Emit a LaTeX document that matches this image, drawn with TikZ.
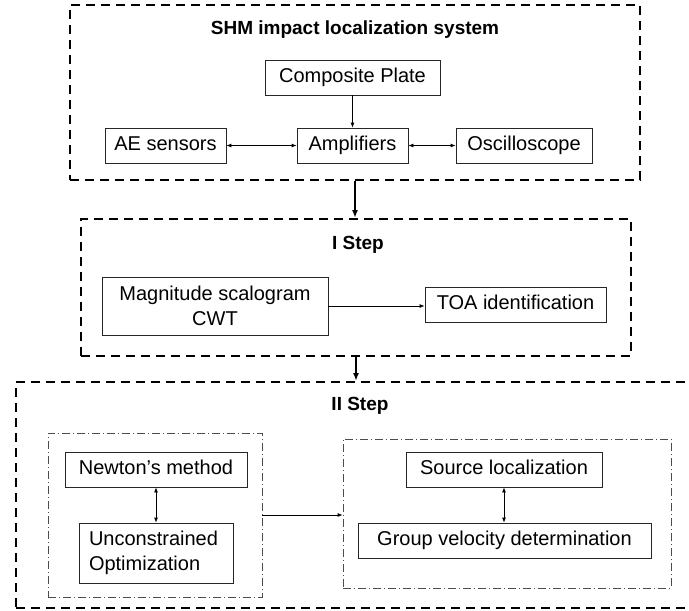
\documentclass[tikz,border=0pt]{standalone}
\usepackage{fontspec}
\setmainfont{Liberation Sans}
\usepackage{tikz}
\usetikzlibrary{arrows.meta}

\begin{document}
\begin{tikzpicture}[x=1pt, y=-1pt,
  every node/.style={font=\fontsize{20}{25}\selectfont, inner sep=0pt},
  blk/.style={draw=black!85, line width=0.8pt, align=center},
  oneline/.style={blk, text height=14.5pt, text depth=4.5pt, minimum height=35},
  stepbox/.style={draw, line width=2pt, dash pattern=on 9pt off 6pt},
  subbox/.style={draw=black!70, line width=0.8pt, dash pattern=on 8pt off 3pt on 1pt off 3pt},
  ttl/.style={font=\bfseries\fontsize{19}{23}\selectfont},
  arr/.style={-{Latex[length=5pt,width=4pt]}, line width=0.8pt},
  darr/.style={{Latex[length=5pt,width=4pt]}-{Latex[length=5pt,width=4pt]}, line width=0.8pt},
  bigarr/.style={-{Latex[length=8pt,width=6pt]}, line width=2pt}]
\clip (0,0) rectangle (689,611);
\node[stepbox, minimum width=570, minimum height=175] (sys) at (355,92.5) {};
\node[stepbox, minimum width=550, minimum height=137] (stepI) at (356,287.5) {};
\node[stepbox, minimum width=679, minimum height=226] (stepII) at (355.5,495) {};
\node[ttl] (sysTitle) at (355,30) {SHM impact localization system};
\node[ttl] (stepITitle) at (358,245) {I Step};
\node[ttl] (stepIITitle) at (360,406) {II Step};
\node[oneline, minimum width=175] (plate) at (352.5,77.5) {Composite Plate};
\node[oneline, minimum width=121] (ae) at (165.5,145.5) {AE sensors};
\node[oneline, minimum width=111] (amp) at (352.5,145.5) {Amplifiers};
\node[oneline, minimum width=136] (osc) at (524,145.5) {Oscilloscope};
\node[blk, minimum width=226, minimum height=58] (mag) at (215,306) {Magnitude scalogram\\CWT};
\node[oneline, minimum width=181] (toa) at (515.5,304.5) {TOA identification};
\node[subbox, minimum width=214, minimum height=164] (optim) at (155,515) {};
\node[subbox, minimum width=328, minimum height=149] (locate) at (507,513.5) {};
\node[oneline, minimum width=182] (newton) at (156,469.5) {Newton's method};
\node[blk, minimum width=154, minimum height=60, align=left, text width=134] (unc) at (156,553) {Unconstrained\\Optimization};
\node[oneline, minimum width=196] (source) at (504,469.5) {Source localization};
\node[oneline, minimum width=293] (group) at (504.5,540.5) {Group velocity determination};
\draw[arr] (plate) -- (amp);
\draw[darr] (ae) -- (amp);
\draw[darr] (amp) -- (osc);
\draw[bigarr] (sys.south) -- (sys.south |- stepI.north);
\draw[arr] (mag.east) -- (mag.east -| toa.west);
\draw[bigarr] (stepI.south) -- (stepI.south |- stepII.north);
\draw[darr] (newton) -- (unc);
\draw[darr] (source) -- (source |- group.north);
\draw[arr] (optim.east) -- (optim.east -| locate.west);
\end{tikzpicture}
\end{document}
